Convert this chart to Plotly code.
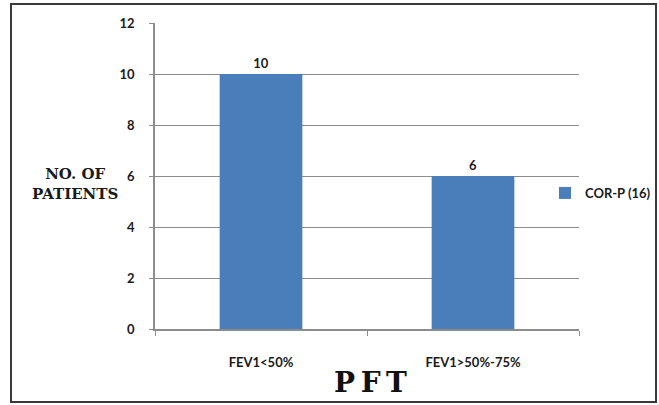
import plotly.graph_objects as go

categories = ["FEV1<50%", "FEV1>50%-75%"]
patients = [10, 6]
series_name = "COR-P (16)"
y_ticks = [0, 2, 4, 6, 8, 10, 12]

W, H = 659, 405
L, R, T, B = 155, 80, 23, 76
pw, ph = W - L - R, H - T - B

def px_x(x):
    return (x - L) / pw

def px_y(y):
    return (H - B - y) / ph

label_font = dict(family="Lato, Liberation Sans, sans-serif", size=13, color="#1a1a1a", weight="bold")

fig = go.Figure(
    go.Bar(
        x=categories,
        y=patients,
        name=series_name,
        marker=dict(color="#4a7ebb", line=dict(width=0)),
        text=[str(v) for v in patients],
        textposition="outside",
        textfont=label_font,
        cliponaxis=False,
        showlegend=True,
    )
)

fig.update_layout(
    width=W,
    height=H,
    margin=dict(l=L, r=R, t=T, b=B, autoexpand=False),
    paper_bgcolor="white",
    plot_bgcolor="white",
    bargap=0.61,
    uniformtext=dict(minsize=1),
    showlegend=True,
    legend=dict(
        x=px_x(545), y=px_y(193), xanchor="left", yanchor="middle",
        font=label_font, bgcolor="rgba(0,0,0,0)", itemwidth=30,
        tracegroupgap=0,
    ),
    xaxis=dict(
        showgrid=False,
        showline=True, linecolor="#8c8c8c", linewidth=1.5,
        ticks="outside", tickson="boundaries", ticklen=5, tickcolor="#8c8c8c",
        tickfont=label_font, ticklabelstandoff=21,
    ),
    yaxis=dict(
        range=[0, 12], tickvals=y_ticks,
        showgrid=True, gridcolor="#8c8c8c", gridwidth=1,
        showline=True, linecolor="#8c8c8c", linewidth=1.5,
        ticks="outside", ticklen=4, tickcolor="#8c8c8c",
        tickfont=label_font, ticklabelstandoff=12,
        zeroline=False,
    ),
    annotations=[
        dict(
            text="<b>NO. OF<br>PATIENTS</b>",
            x=px_x(75), y=px_y(184), xref="paper", yref="paper",
            xanchor="center", yanchor="middle",
            showarrow=False, align="center",
            font=dict(family="DejaVu Serif", size=15, color="#1a1a1a"),
        ),
        dict(
            text="<b>P\u2009F\u2009T</b>",
            x=px_x(370), y=px_y(382), xref="paper", yref="paper",
            xanchor="center", yanchor="middle",
            showarrow=False,
            font=dict(family="DejaVu Serif", size=28, color="#111111"),
        ),
    ],
    shapes=[
        dict(
            type="rect", xref="paper", yref="paper",
            x0=px_x(11), x1=px_x(656), y0=px_y(402), y1=px_y(4),
            line=dict(color="#3a3a3a", width=2), fillcolor="rgba(0,0,0,0)",
        )
    ],
)

fig.write_html("out.html")
